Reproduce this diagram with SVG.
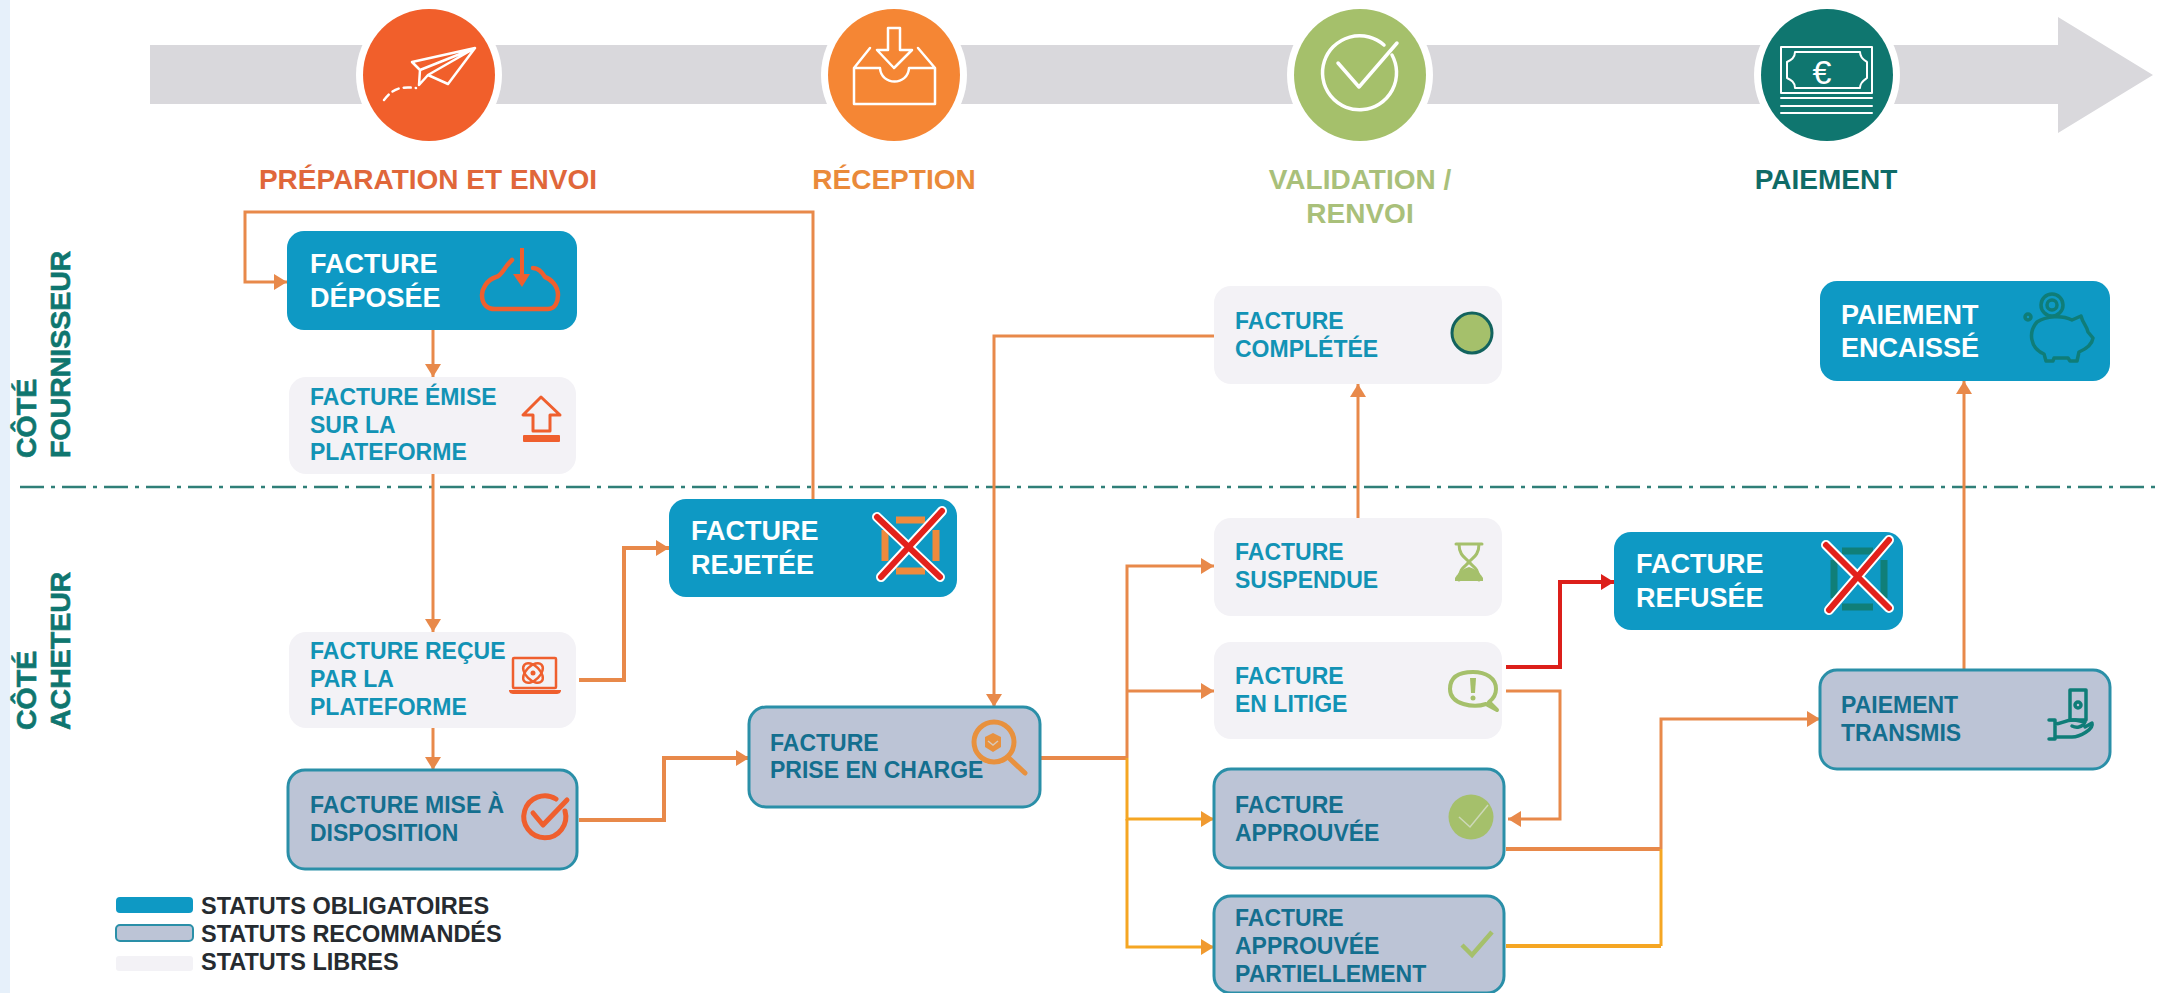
<svg xmlns="http://www.w3.org/2000/svg" width="2165" height="993" viewBox="0 0 2165 993">
<style>
text{font-family:"Liberation Sans",Arial,sans-serif;font-weight:700}
.ph{font-size:28px;text-anchor:middle}
.w{fill:#fff;font-size:27px}
.l{fill:#1293b5;font-size:23px}
.r{fill:#146f8f;font-size:23px}
.side{fill:#0f766f;font-size:28.5px;stroke:#0f766f;stroke-width:.6}
.leg{fill:#262b30;font-size:23.5px}
.ob{fill:#0e99c4}
.li{fill:#f3f2f6}
.re{fill:#bcc4d6;stroke:#2a8fa8;stroke-width:3}
.c{fill:none;stroke:#e8894a;stroke-width:3}
.t{stroke-width:4}
.y{stroke:#f5a623}
.rd{stroke:#dc1f1a}
.ic{fill:none;stroke:#ef5f2e;stroke-width:4;stroke-linejoin:round;stroke-linecap:round}
.io{stroke:#ee8a3c}
.ig{stroke:#a5c06b}
.iw{fill:none;stroke:#fff;stroke-width:2.5;stroke-linejoin:round;stroke-linecap:round}
.it{fill:none;stroke:#0f7d78;stroke-width:3.5;stroke-linejoin:round;stroke-linecap:round}
</style>
<defs>
<marker id="a" markerUnits="userSpaceOnUse" markerWidth="14" markerHeight="16" refX="13" refY="8" orient="auto"><path d="M0,0L13,8L0,16Z" fill="#e8894a"/></marker>
<marker id="ay" markerUnits="userSpaceOnUse" markerWidth="14" markerHeight="16" refX="13" refY="8" orient="auto"><path d="M0,0L13,8L0,16Z" fill="#f09a30"/></marker>
<marker id="ar" markerUnits="userSpaceOnUse" markerWidth="14" markerHeight="16" refX="13" refY="8" orient="auto"><path d="M0,0L13,8L0,16Z" fill="#dc1f1a"/></marker>
</defs>
<rect width="2165" height="993" fill="#fff"/>
<rect width="10" height="993" fill="#e6f0fa"/>
<polygon id="band" points="150,45 2058,45 2058,17 2153,75 2058,133 2058,104 150,104" fill="#d9d8dc"/>
<g id="separator"><line x1="20" y1="487" x2="2158" y2="487" stroke="#2f7f78" stroke-width="2.5" stroke-dasharray="24 7 4 7"/></g>

<g id="connectors">
<path class="c" d="M813,499V212H245V282H287" marker-end="url(#a)"/>
<path class="c" d="M433,330V377" marker-end="url(#a)"/>
<path class="c" d="M433,474V632" marker-end="url(#a)"/>
<path class="c" d="M433,728V770" marker-end="url(#a)"/>
<path class="c t" d="M579,680H624V548H669" marker-end="url(#a)"/>
<path class="c t" d="M579,820H664V758H749" marker-end="url(#a)"/>
<path class="c" d="M1214,336H994V707" marker-end="url(#a)"/>
<path class="c t" d="M1040,758H1127"/>
<path class="c" d="M1127,758V566H1214" marker-end="url(#a)"/>
<path class="c" d="M1127,691H1214" marker-end="url(#a)"/>
<path class="c y" d="M1127,758V819H1214" marker-end="url(#ay)"/>
<path class="c y" d="M1127,819V947H1214" marker-end="url(#ay)"/>
<path class="c t rd" d="M1506,667H1560V582H1614" marker-end="url(#ar)"/>
<path class="c" d="M1506,691H1560V819H1508" marker-end="url(#a)"/>
<path class="c t" d="M1506,849H1661"/>
<path class="c" d="M1661,849V719H1820" marker-end="url(#a)"/>
<path class="c y t" d="M1506,946H1661"/>
<path class="c y" d="M1661,946V849"/>
<path class="c" d="M1358,518V384" marker-end="url(#a)"/>
<path class="c" d="M1964,670V381" marker-end="url(#a)"/>
</g>

<g id="phase-preparation">
<circle cx="429" cy="75" r="73" fill="#fff"/><circle cx="429" cy="75" r="66" fill="#f15f2b"/>
<path class="iw" d="M475,48L412,62L420,70L419,85L428,75L448,84ZM475,48L420,70M475,48L428,75"/>
<path class="iw" d="M384,100C392,90 398,86 416,88" stroke-dasharray="7 5"/>
<text class="ph" x="428" y="189" fill="#e0673a">PRÉPARATION ET ENVOI</text>
</g>
<g id="phase-reception">
<circle cx="894" cy="75" r="73" fill="#fff"/><circle cx="894" cy="75" r="66" fill="#f58634"/>
<path class="iw" d="M888,28H900V50H912L894,68L877,50H888ZM870,48L854,68V104H935V68L918,48M854,68H880C881,86 908,86 909,68H935"/>
<text class="ph" x="894" y="189" fill="#ea8a3a">RÉCEPTION</text>
</g>
<g id="phase-validation">
<circle cx="1360" cy="75" r="73" fill="#fff"/><circle cx="1360" cy="75" r="66" fill="#a5c06b"/>
<path class="iw" style="stroke-width:3.5" d="M1384,45A37,37 0 1 0 1392,55M1338,63L1359,87L1397,43"/>
<text class="ph" x="1360" y="189" fill="#a9c07a">VALIDATION /</text>
<text class="ph" x="1360" y="223" fill="#a9c07a">RENVOI</text>
</g>
<g id="phase-paiement">
<circle cx="1827" cy="75" r="73" fill="#fff"/><circle cx="1827" cy="75" r="66" fill="#0f766f"/>
<path class="iw" style="stroke-width:2" d="M1781,47H1872V93H1781ZM1795,52H1860C1860,58 1864,60 1867,62V78C1864,80 1860,82 1860,88H1795C1795,82 1791,80 1787,78V62C1791,60 1795,58 1795,52ZM1781,98H1872M1781,106H1872M1781,113H1872"/>
<text x="1822" y="84" font-size="34" text-anchor="middle" fill="#fff" style="font-weight:400">€</text>
<text class="ph" x="1826" y="189" fill="#0f6b66">PAIEMENT</text>
</g>

<g id="side-labels">
<text class="side" transform="translate(36,458) rotate(-90)">CÔTÉ</text>
<text class="side" transform="translate(70,458) rotate(-90)">FOURNISSEUR</text>
<text class="side" transform="translate(36,730) rotate(-90)">CÔTÉ</text>
<text class="side" transform="translate(70,730) rotate(-90)">ACHETEUR</text>
</g>

<g id="facture-deposee">
<rect class="ob" x="287" y="231" width="290" height="99" rx="17"/>
<text class="w" x="310" y="273">FACTURE</text><text class="w" x="310" y="307">DÉPOSÉE</text>
<path class="ic" style="stroke-width:4.5" d="M512,260C504,267 502,276 496,277C486,280 482,290 482,295C482,305 488,309 495,309H548C555,309 558,302 558,295C558,286 551,279 545,277C542,272 538,268 533,268"/>
<path d="M520,248H524V274H530L522,287L513,274H520Z" fill="#ef5f2e"/>
</g>
<g id="facture-emise">
<rect class="li" x="289" y="377" width="287" height="97" rx="17"/>
<text class="l" x="310" y="405">FACTURE ÉMISE</text><text class="l" x="310" y="433">SUR LA</text><text class="l" x="310" y="460">PLATEFORME</text>
<path class="ic" style="stroke-width:3" d="M541,397L523,415H533V431H550V415H560Z"/>
<rect x="523" y="435" width="37" height="7" rx="1" fill="#ef5f2e"/>
</g>
<g id="facture-recue">
<rect class="li" x="289" y="632" width="287" height="96" rx="17"/>
<text class="l" x="310" y="659">FACTURE REÇUE</text><text class="l" x="310" y="687">PAR LA</text><text class="l" x="310" y="715">PLATEFORME</text>
<rect class="ic" style="stroke-width:2.5" x="513" y="658" width="43" height="30" rx="1"/>
<path d="M509,690H561C561,693 559,694 556,694H514C511,694 509,693 509,690Z" fill="#ef5f2e"/>
<g class="ic" style="stroke-width:2.5"><ellipse cx="533" cy="673" rx="12" ry="7" transform="rotate(45 533 673)"/><ellipse cx="533" cy="673" rx="12" ry="7" transform="rotate(-45 533 673)"/></g>
<circle cx="533" cy="673" r="2.5" fill="#ef5f2e"/>
</g>
<g id="facture-mise">
<rect class="re" x="288" y="770" width="289" height="99" rx="17"/>
<text class="r" x="310" y="813">FACTURE MISE À</text><text class="r" x="310" y="841">DISPOSITION</text>
<path class="ic" style="stroke-width:5" d="M556,799A21,21 0 1 0 565,811M533,813L543,825L567,800"/>
</g>
<g id="facture-rejetee">
<rect class="ob" x="669" y="499" width="288" height="98" rx="17"/>
<text class="w" x="691" y="540">FACTURE</text><text class="w" x="691" y="574">REJETÉE</text>
<path d="M896,520H925M896,571H925M885,530V561M936,530V561" stroke="#ee8a3c" stroke-width="7" fill="none"/>
<path d="M877,517L940,577M942,511L881,577" stroke="#fff" stroke-width="10" stroke-linecap="round" fill="none"/>
<path d="M877,517L940,577M942,511L881,577" stroke="#e3211b" stroke-width="6" stroke-linecap="round" fill="none"/>
</g>
<g id="facture-prise">
<rect class="re" x="749" y="707" width="291" height="100" rx="17"/>
<text class="r" x="770" y="751">FACTURE</text><text class="r" x="770" y="778">PRISE EN CHARGE</text>
<circle cx="994" cy="742" r="20" fill="none" stroke="#e8913e" stroke-width="5"/>
<path d="M1010,759L1025,773" stroke="#e8913e" stroke-width="5" stroke-linecap="round"/>
<polygon points="993,733 1001,737 1001,747 993,752 985,747 985,737" fill="#e8913e"/>
<path d="M988,741L993,745L998,741" stroke="#d9c9b8" stroke-width="1.5" fill="none"/>
</g>
<g id="facture-completee">
<rect class="li" x="1214" y="286" width="288" height="98" rx="17"/>
<text class="l" x="1235" y="329">FACTURE</text><text class="l" x="1235" y="357">COMPLÉTÉE</text>
<circle cx="1472" cy="333" r="20" fill="#a5c06b" stroke="#12635e" stroke-width="3"/>
</g>
<g id="facture-suspendue">
<rect class="li" x="1214" y="518" width="288" height="98" rx="17"/>
<text class="l" x="1235" y="560">FACTURE</text><text class="l" x="1235" y="588">SUSPENDUE</text>
<path class="ic ig" style="stroke-width:3" d="M1456,544H1482M1459,544C1459,556 1466,558 1469,562C1472,558 1479,556 1479,544M1459,580C1459,568 1466,566 1469,562C1472,566 1479,568 1479,580"/>
<path d="M1455,581H1483V578C1478,570 1472,568 1469,567C1466,568 1460,570 1455,578Z" fill="#a5c06b"/>
</g>
<g id="facture-litige">
<rect class="li" x="1214" y="642" width="288" height="97" rx="17"/>
<text class="l" x="1235" y="684">FACTURE</text><text class="l" x="1235" y="712">EN LITIGE</text>
<path class="ic ig" d="M1486,704C1474,708 1450,705 1450,689C1450,676 1460,672 1473,672C1486,672 1496,678 1496,689C1496,695 1493,699 1489,702L1497,710Z"/>
<path d="M1470,678H1476L1475,693H1471Z" fill="#a5c06b"/><circle cx="1473" cy="698" r="2.5" fill="#a5c06b"/>
</g>
<g id="facture-approuvee">
<rect class="re" x="1214" y="769" width="290" height="99" rx="17"/>
<text class="r" x="1235" y="813">FACTURE</text><text class="r" x="1235" y="841">APPROUVÉE</text>
<circle cx="1471" cy="817" r="22.5" fill="#a5c06b"/>
<path d="M1459,817L1470,827L1488,805" stroke="#cdd8b8" stroke-width="1.5" fill="none"/>
</g>
<g id="facture-partielle">
<rect class="re" x="1214" y="896" width="290" height="97" rx="17"/>
<text class="r" x="1235" y="926">FACTURE</text><text class="r" x="1235" y="954">APPROUVÉE</text><text class="r" x="1235" y="982">PARTIELLEMENT</text>
<path d="M1462,945L1472,955L1492,932" stroke="#a5c06b" stroke-width="4.5" fill="none"/>
</g>
<g id="facture-refusee">
<rect class="ob" x="1614" y="532" width="289" height="98" rx="17"/>
<text class="w" x="1636" y="573">FACTURE</text><text class="w" x="1636" y="607">REFUSÉE</text>
<path d="M1842,551H1873M1842,607H1873M1834,560V598M1884,560V598" stroke="#107f78" stroke-width="7" fill="none"/>
<path d="M1826,545L1889,608M1889,540L1829,610" stroke="#fff" stroke-width="10" stroke-linecap="round" fill="none"/>
<path d="M1826,545L1889,608M1889,540L1829,610" stroke="#e3211b" stroke-width="6" stroke-linecap="round" fill="none"/>
</g>
<g id="paiement-encaisse">
<rect class="ob" x="1820" y="281" width="290" height="100" rx="17"/>
<text class="w" x="1841" y="324">PAIEMENT</text><text class="w" x="1841" y="357">ENCAISSÉ</text>
<g class="it">
<circle cx="2052" cy="305" r="11"/><circle cx="2052" cy="305" r="5"/>
<path d="M2037,322C2028,332 2030,348 2044,354L2046,361H2053L2054,358H2068L2070,361H2077L2079,352C2086,349 2092,345 2093,338L2088,332C2087,326 2083,324 2081,316L2072,320C2062,315 2046,316 2037,322Z"/>
<circle cx="2028" cy="317" r="3"/>
</g>
</g>
<g id="paiement-transmis">
<rect class="re" x="1820" y="670" width="290" height="99" rx="17"/>
<text class="r" x="1841" y="713">PAIEMENT</text><text class="r" x="1841" y="741">TRANSMIS</text>
<rect class="it" x="2070" y="690" width="16" height="30"/>
<circle class="it" cx="2078" cy="705" r="3"/>
<path class="it" d="M2049,720H2055V739H2049M2055,724C2062,724 2066,719 2075,720L2085,722C2082,728 2076,728 2072,726M2085,727L2092,723C2094,729 2080,737 2072,737H2055"/>
</g>
<g id="legend">
<rect class="ob" x="116" y="897" width="77" height="16" rx="4"/>
<rect class="re" x="116" y="925" width="77" height="16" rx="4" style="stroke-width:2"/>
<rect class="li" x="116" y="956" width="77" height="15" rx="3"/>
<text class="leg" x="201" y="914">STATUTS OBLIGATOIRES</text>
<text class="leg" x="201" y="942">STATUTS RECOMMANDÉS</text>
<text class="leg" x="201" y="970">STATUTS LIBRES</text>
</g>
</svg>
